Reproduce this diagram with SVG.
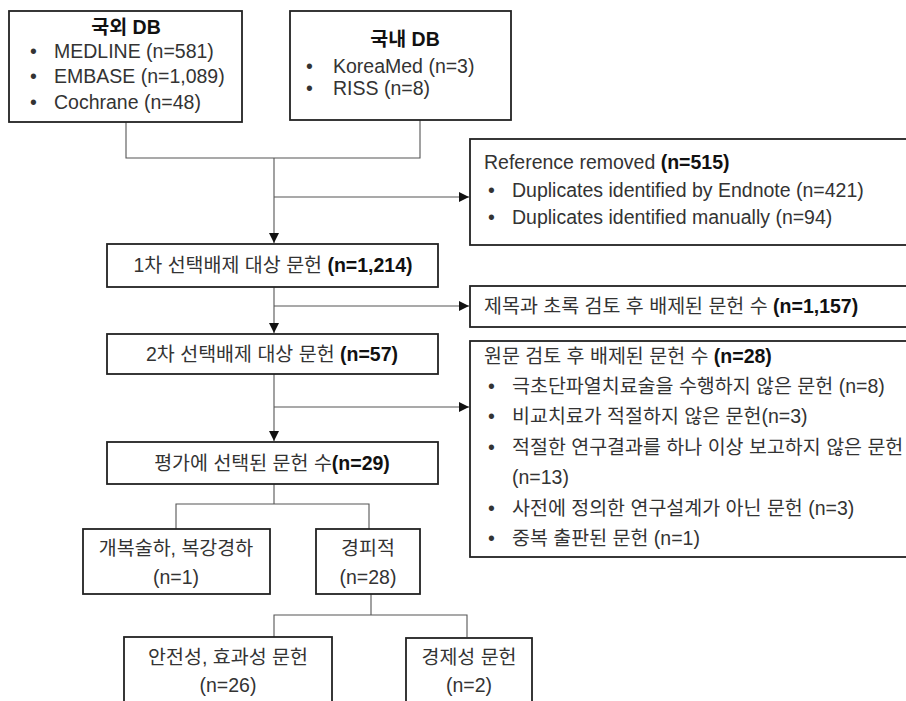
<svg xmlns="http://www.w3.org/2000/svg" width="906" height="701" viewBox="0 0 906 701">
<defs>
<style>
.box{fill:#fff;stroke:#222;stroke-width:1.8}
.ln{fill:none;stroke:#555;stroke-width:1.1}
text{font-family:"Liberation Sans","Noto Sans CJK KR",sans-serif;font-size:19.5px;fill:#333}
.b{font-weight:bold;fill:#111}
.c{text-anchor:middle}
</style>
<marker id="ah" viewBox="0 0 10 10" refX="10" refY="5" markerWidth="10" markerHeight="10" markerUnits="userSpaceOnUse" orient="auto">
<path d="M0,0 L10,5 L0,10 Z" fill="#111"/>
</marker>
</defs>
<rect width="906" height="701" fill="#fff"/>
<g id="connectors">
<path class="ln" d="M126,122 V158 H420 V120"/>
<path class="ln" d="M274,158 V243" marker-end="url(#ah)"/>
<path class="ln" d="M274,197 H469" marker-end="url(#ah)"/>
<path class="ln" d="M274,287 V333" marker-end="url(#ah)"/>
<path class="ln" d="M274,306 H469" marker-end="url(#ah)"/>
<path class="ln" d="M274,374 V441" marker-end="url(#ah)"/>
<path class="ln" d="M274,407 H469" marker-end="url(#ah)"/>
<path class="ln" d="M274,484 V504 M176,529 V504 H369 V529"/>
<path class="ln" d="M371,594 V615 M274,637 V615 H467 V637"/>
</g>
<g id="n_foreign">
<rect class="box" x="9" y="11" width="233" height="111"/>
<text class="c b" x="126" y="34">국외 DB</text>
<text x="30" y="58">•</text><text x="54" y="58">MEDLINE (n=581)</text>
<text x="30" y="83">•</text><text x="54" y="83">EMBASE (n=1,089)</text>
<text x="30" y="109">•</text><text x="54" y="109">Cochrane (n=48)</text>
</g>
<g id="n_domestic">
<rect class="box" x="290" y="11" width="221" height="109"/>
<text class="c b" x="405" y="46">국내 DB</text>
<text x="306" y="73">•</text><text x="333" y="73">KoreaMed (n=3)</text>
<text x="306" y="95">•</text><text x="333" y="95">RISS (n=8)</text>
</g>
<g id="n_removed">
<rect class="box" x="470" y="139" width="445" height="106"/>
<text x="484" y="169">Reference removed <tspan class="b">(n=515)</tspan></text>
<text x="488" y="197">•</text><text x="512" y="197">Duplicates identified by Endnote (n=421)</text>
<text x="488" y="224">•</text><text x="512" y="224">Duplicates identified manually (n=94)</text>
</g>
<g id="n_first">
<rect class="box" x="107" y="244" width="331" height="43"/>
<text class="c" x="273" y="272">1차 선택배제 대상 문헌 <tspan class="b">(n=1,214)</tspan></text>
</g>
<g id="n_title_excl">
<rect class="box" x="470" y="286" width="445" height="41"/>
<text x="484" y="313">제목과 초록 검토 후 배제된 문헌 수 <tspan class="b">(n=1,157)</tspan></text>
</g>
<g id="n_second">
<rect class="box" x="107" y="334" width="331" height="40"/>
<text class="c" x="272" y="361">2차 선택배제 대상 문헌 <tspan class="b">(n=57)</tspan></text>
</g>
<g id="n_full_excl">
<rect class="box" x="470" y="341" width="445" height="216"/>
<text x="484" y="363">원문 검토 후 배제된 문헌 수 <tspan class="b">(n=28)</tspan></text>
<text x="488" y="393">•</text><text x="512" y="393">극초단파열치료술을 수행하지 않은 문헌 (n=8)</text>
<text x="488" y="423">•</text><text x="512" y="423">비교치료가 적절하지 않은 문헌(n=3)</text>
<text x="488" y="454">•</text><text x="512" y="454">적절한 연구결과를 하나 이상 보고하지 않은 문헌</text>
<text x="512" y="484">(n=13)</text>
<text x="488" y="515">•</text><text x="512" y="515">사전에 정의한 연구설계가 아닌 문헌 (n=3)</text>
<text x="488" y="545">•</text><text x="512" y="545">중복 출판된 문헌 (n=1)</text>
</g>
<g id="n_selected">
<rect class="box" x="107" y="442" width="331" height="42"/>
<text class="c" x="272" y="470">평가에 선택된 문헌 수<tspan class="b">(n=29)</tspan></text>
</g>
<g id="n_open">
<rect class="box" x="83" y="529" width="187" height="65"/>
<text class="c" x="176" y="555">개복술하, 복강경하</text>
<text class="c" x="176" y="584">(n=1)</text>
</g>
<g id="n_perc">
<rect class="box" x="316" y="529" width="104" height="65"/>
<text class="c" x="368" y="555">경피적</text>
<text class="c" x="368" y="584">(n=28)</text>
</g>
<g id="n_safety">
<rect class="box" x="124" y="637" width="208" height="70"/>
<text class="c" x="228" y="664">안전성, 효과성 문헌</text>
<text class="c" x="228" y="692">(n=26)</text>
</g>
<g id="n_econ">
<rect class="box" x="406" y="638" width="126" height="70"/>
<text class="c" x="469" y="664">경제성 문헌</text>
<text class="c" x="469" y="692">(n=2)</text>
</g>
</svg>
